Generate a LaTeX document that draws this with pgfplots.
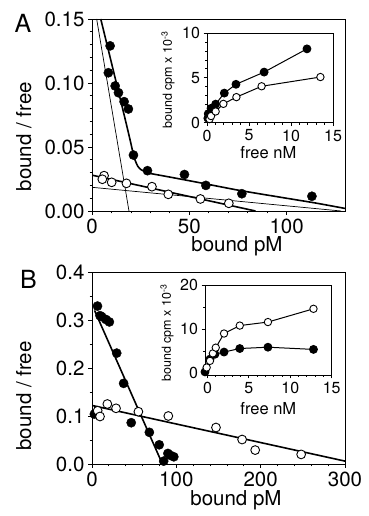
\documentclass[border=0pt]{standalone}
\usepackage{fontspec}
\setmainfont{TeX Gyre Heros}
\usepackage{pgfplots}
\pgfplotsset{compat=1.18}
\begin{document}
\begin{tikzpicture}
\useasboundingbox (0pt,0pt) rectangle (368pt,516pt);
\pgfplotsset{
 common/.style={scale only axis, anchor=south west, axis line style={line width=0.9pt},
   tick align=outside, tick pos=left, every tick/.style={black, line width=0.8pt},
   /pgf/number format/assume math mode=true, scaled x ticks=false, scaled y ticks=false},
 mainax/.style={common, width=253pt, height=192pt, major tick length=4pt, minor tick length=2.5pt,
   tick label style={font=\fontsize{20.5}{24}\selectfont},
   label style={font=\fontsize{20.5}{24}\selectfont}},
 insetax/.style={common, clip=false, major tick length=3.5pt, minor tick length=2pt,
   tick label style={font=\fontsize{16}{19}\selectfont},
   xlabel style={font=\fontsize{16.5}{19}\selectfont},
   ylabel style={font=\fontsize{12.5}{15}\selectfont}, axis background/.style={fill=white}},
 fmark/.style={only marks, mark=*, mark size=4.6pt, mark options={fill=black, draw=black}},
 omark/.style={only marks, mark=*, mark size=4.4pt, mark options={fill=white, draw=black, line width=0.9pt}},
 fline/.style={mark=*, mark size=3.9pt, line width=1pt, black, mark options={fill=black, draw=black}},
 oline/.style={mark=*, mark size=3.7pt, line width=1pt, black, mark options={fill=white, draw=black, line width=0.9pt}},
}
% ---------------- Panel A ----------------
\begin{axis}[mainax, at={(92pt,305pt)}, xmin=0, xmax=130, ymin=0, ymax=0.15,
  xtick={0,50,100}, ytick={0,0.05,0.1,0.15}, minor x tick num=4, minor y tick num=4,
  yticklabel style={/pgf/number format/.cd, fixed, fixed zerofill, precision=2},
  xlabel={bound pM}, ylabel={bound / free},
  xlabel style={at={(axis description cs:0.573,-0.185)}, anchor=center},
  ylabel style={at={(axis description cs:-0.269,0.387)}, anchor=center}]
\addplot[black, line width=0.7pt] coordinates {(2.4,0.15) (19,0)};
\addplot[black, line width=0.7pt] coordinates {(0,0.0185) (128,0)};
\addplot[black, line width=1.6pt] coordinates {(0,0.028) (84,0)};
\addplot[black, line width=1.6pt, smooth, tension=0.35] coordinates {
 (4.5,0.15) (9,0.122) (13,0.097) (17,0.072) (19.5,0.056) (21,0.046) (22.2,0.0395)
 (23.5,0.035) (25,0.0325) (27.5,0.0305) (30,0.0293) (40,0.0265) (55,0.0222)
 (75,0.0163) (95,0.0112) (115,0.0062) (130,0.002)};
\addplot[fmark] coordinates {(9.3,0.129) (8.4,0.108) (11.9,0.0977) (13.6,0.0924)
 (16.5,0.0854) (18.7,0.0797) (21.3,0.0437) (28.5,0.0315) (47.5,0.0285) (58.5,0.020)
 (77,0.0135) (113,0.0115)};
\addplot[omark] coordinates {(6.2,0.0276) (5.3,0.0248) (10.1,0.0224) (17.7,0.0216)
 (30.8,0.019) (39.2,0.013) (55.7,0.0094) (70.3,0.006)};
\end{axis}
% inset A
\begin{axis}[insetax, at={(207pt,393.3pt)}, width=126pt, height=89.7pt,
  xmin=0, xmax=15, ymin=0, ymax=10, xtick={0,5,10,15}, ytick={0,5,10},
  minor y tick num=4, minor x tick num=4,
  xlabel={free nM}, ylabel={bound cpm x 10\textsuperscript{-3}},
  xlabel style={at={(axis description cs:0.487,-0.33)}, anchor=center},
  ylabel style={at={(axis description cs:-0.31,0.476)}, anchor=center}]
\addplot[fline] coordinates {(0.1,0.5) (0.15,1.0) (0.48,1.6) (1.03,2.07) (2.06,3.3)
 (3.45,4.28) (6.8,5.64) (11.9,8.23)};
\addplot[oline] coordinates {(0.3,0.4) (0.48,0.74) (1.03,1.25) (1.95,2.1) (3.5,2.85)
 (6.5,4.06) (13.5,5.09)};
\end{axis}
% ---------------- Panel B ----------------
\begin{axis}[mainax, at={(92pt,52pt)}, xmin=0, xmax=300, ymin=0, ymax=0.4,
  xtick={0,100,200,300}, ytick={0,0.1,0.2,0.3,0.4}, minor x tick num=4, minor y tick num=1,
  yticklabel style={/pgf/number format/.cd, fixed, fixed zerofill, precision=1},
  xlabel={bound pM}, ylabel={bound / free},
  xlabel style={at={(axis description cs:0.569,-0.19)}, anchor=center},
  ylabel style={at={(axis description cs:-0.269,0.355)}, anchor=center}]
\addplot[black, line width=1.6pt] coordinates {(3,0.32) (83.5,0)};
\addplot[black, line width=1.6pt] coordinates {(0,0.122) (300,0.006)};
\addplot[fmark] coordinates {(2.8,0.104) (6.5,0.329) (9.5,0.309) (11.5,0.307) (16.6,0.301)
 (20.6,0.296) (29.3,0.231) (37.5,0.168) (46.5,0.086) (68,0.066) (79.7,0.04) (85,0.006)
 (90,0.022) (93,0.018) (97,0.015)};
\addplot[omark] coordinates {(6.7,0.111) (9.5,0.099) (18.2,0.125) (28.5,0.116) (55,0.109)
 (90.5,0.1) (147,0.076) (178,0.051) (193.5,0.029) (248,0.02)};
\end{axis}
% inset B
\begin{axis}[insetax, at={(205pt,141pt)}, width=126.7pt, height=90pt,
  xmin=-0.3, xmax=15, ymin=-0.4, ymax=20, xtick={0,5,10,15}, ytick={0,10,20},
  minor y tick num=1, minor x tick num=4,
  xlabel={free nM}, ylabel={bound cpm x 10\textsuperscript{-3}},
  xlabel style={at={(axis description cs:0.5,-0.37)}, anchor=center},
  ylabel style={at={(axis description cs:-0.30,0.467)}, anchor=center}]
\addplot[fline] coordinates {(-0.3,0.3) (0.3,3.2) (0.9,4.3) (2.0,4.8) (3.9,5.6)
 (7.3,5.9) (12.8,5.4)};
\addplot[oline] coordinates {(-0.1,1.3) (0.3,2.8) (0.65,4.5) (1.0,5.8) (2.0,9.0)
 (3.9,10.8) (7.3,11.6) (12.8,14.6)};
\end{axis}
\node[font=\fontsize{25}{28}\selectfont] at (23pt,493pt) {A};
\node[font=\fontsize{25}{28}\selectfont] at (28.5pt,237pt) {B};
\end{tikzpicture}
\end{document}
